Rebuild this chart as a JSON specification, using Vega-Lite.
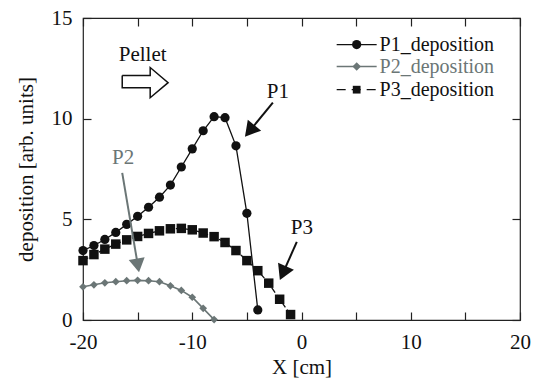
{
  "$schema": "https://vega.github.io/schema/vega-lite/v6.json",
  "width": 437,
  "height": 302,
  "autosize": "none",
  "padding": {"left": 83, "top": 18, "right": 21, "bottom": 58},
  "background": "white",
  "config": {
    "font": "'Liberation Serif', serif",
    "view": {"stroke": "#222222", "strokeWidth": 1.2},
    "text": {"font": "'Liberation Serif', serif"},
    "axis": {
      "domain": false,
      "grid": false,
      "tickColor": "#222222",
      "tickWidth": 1.2,
      "tickSize": -8,
      "labelFlush": false,
      "labelFont": "'Liberation Serif', serif",
      "labelFontSize": 21,
      "labelColor": "#111111",
      "titleFont": "'Liberation Serif', serif",
      "titleFontSize": 21,
      "titleFontWeight": "normal",
      "titleColor": "#111111"
    }
  },
  "datasets": {
    "series": [
      {"s": "P1", "x": -20, "y": 3.45}, {"s": "P1", "x": -19, "y": 3.7}, {"s": "P1", "x": -18, "y": 4.0},
      {"s": "P1", "x": -17, "y": 4.35}, {"s": "P1", "x": -16, "y": 4.75}, {"s": "P1", "x": -15, "y": 5.15},
      {"s": "P1", "x": -14, "y": 5.6}, {"s": "P1", "x": -13, "y": 6.1}, {"s": "P1", "x": -12, "y": 6.7},
      {"s": "P1", "x": -11, "y": 7.6}, {"s": "P1", "x": -10, "y": 8.5}, {"s": "P1", "x": -9, "y": 9.4},
      {"s": "P1", "x": -8, "y": 10.1}, {"s": "P1", "x": -7, "y": 10.05}, {"s": "P1", "x": -6, "y": 8.65},
      {"s": "P1", "x": -5, "y": 5.3}, {"s": "P1", "x": -4, "y": 0.5},
      {"s": "P2", "x": -20, "y": 1.65}, {"s": "P2", "x": -19, "y": 1.75}, {"s": "P2", "x": -18, "y": 1.85},
      {"s": "P2", "x": -17, "y": 1.9}, {"s": "P2", "x": -16, "y": 1.95}, {"s": "P2", "x": -15, "y": 1.97},
      {"s": "P2", "x": -14, "y": 1.95}, {"s": "P2", "x": -13, "y": 1.9}, {"s": "P2", "x": -12, "y": 1.7},
      {"s": "P2", "x": -11, "y": 1.47}, {"s": "P2", "x": -10, "y": 1.13}, {"s": "P2", "x": -9, "y": 0.58},
      {"s": "P2", "x": -8, "y": 0.02},
      {"s": "P3", "x": -20, "y": 2.95}, {"s": "P3", "x": -19, "y": 3.25}, {"s": "P3", "x": -18, "y": 3.52},
      {"s": "P3", "x": -17, "y": 3.77}, {"s": "P3", "x": -16, "y": 3.98}, {"s": "P3", "x": -15, "y": 4.15},
      {"s": "P3", "x": -14, "y": 4.3}, {"s": "P3", "x": -13, "y": 4.43}, {"s": "P3", "x": -12, "y": 4.53},
      {"s": "P3", "x": -11, "y": 4.55}, {"s": "P3", "x": -10, "y": 4.48}, {"s": "P3", "x": -9, "y": 4.32},
      {"s": "P3", "x": -8, "y": 4.14}, {"s": "P3", "x": -7, "y": 3.85}, {"s": "P3", "x": -6, "y": 3.45},
      {"s": "P3", "x": -5, "y": 2.95}, {"s": "P3", "x": -4, "y": 2.45}, {"s": "P3", "x": -3, "y": 1.83},
      {"s": "P3", "x": -2, "y": 1.03}, {"s": "P3", "x": -1, "y": 0.27}
    ],
    "legend": [
      {"s": "P1", "x": 3.22, "x2": 6.88, "xm": 5.05, "xt": 7.15, "y": 13.68, "t": "P1_deposition"},
      {"s": "P2", "x": 3.22, "x2": 6.88, "xm": 5.05, "xt": 7.15, "y": 12.59, "t": "P2_deposition"},
      {"s": "P3", "x": 3.22, "x2": 6.88, "xm": 5.05, "xt": 7.15, "y": 11.44, "t": "P3_deposition"}
    ],
    "blacklabels": [
      {"t": "Pellet", "x": -14.54, "y": 13.18},
      {"t": "P1", "x": -2.16, "y": 11.34},
      {"t": "P3", "x": 0.03, "y": 4.58}
    ],
    "greylabels": [
      {"t": "P2", "x": -16.32, "y": 8.06}
    ],
    "arrows": [
      {"a": "P1", "x": -2.62, "y": 10.8, "x2": -4.74, "y2": 9.39},
      {"a": "P3", "x": -0.43, "y": 3.88, "x2": -1.7, "y2": 2.33},
      {"a": "P2", "x": -16.41, "y": 7.31, "x2": -14.98, "y2": 2.71}
    ],
    "pellet": [
      {"i": 0, "x": -16.41, "y": 12.14}, {"i": 1, "x": -13.85, "y": 12.14},
      {"i": 2, "x": -13.85, "y": 12.54}, {"i": 3, "x": -12.21, "y": 11.79},
      {"i": 4, "x": -13.85, "y": 11.04}, {"i": 5, "x": -13.85, "y": 11.54},
      {"i": 6, "x": -16.41, "y": 11.54}, {"i": 7, "x": -16.41, "y": 12.14}
    ]
  },
  "layer": [
    {
      "data": {"name": "series"},
      "transform": [{"filter": "datum.s === 'P1'"}],
      "mark": {"type": "line", "color": "#111111", "strokeWidth": 1.3},
      "encoding": {
        "x": {"field": "x", "type": "quantitative", "scale": {"domain": [-20, 20], "nice": false},
          "axis": {"orient": "bottom", "values": [-20, -15, -10, -5, 0, 5, 10, 15, 20], "labelExpr": "datum.value % 10 === 0 ? '' + datum.value : ''", "labelPadding": 19, "title": "X [cm]", "titlePadding": 4}},
        "y": {"field": "y", "type": "quantitative", "scale": {"domain": [0, 15], "nice": false},
          "axis": {"orient": "left", "values": [0, 5, 10, 15], "labelPadding": 19, "title": "deposition [arb. units]", "titlePadding": 15}}
      }
    },
    {
      "data": {"name": "series"},
      "transform": [{"filter": "datum.s === 'P2'"}],
      "mark": {"type": "line", "color": "#6b7676", "strokeWidth": 1.6},
      "encoding": {
        "x": {"field": "x", "type": "quantitative", "scale": {"domain": [-20, 20], "nice": false},
          "axis": {"orient": "top", "values": [-20, -15, -10, -5, 0, 5, 10, 15, 20], "labels": false, "title": null}},
        "y": {"field": "y", "type": "quantitative", "scale": {"domain": [0, 15], "nice": false},
          "axis": {"orient": "right", "values": [0, 5, 10, 15], "labels": false, "title": null}}
      }
    },
    {
      "data": {"name": "series"},
      "transform": [{"filter": "datum.s === 'P3'"}],
      "mark": {"type": "line", "color": "#111111", "strokeWidth": 1.3, "strokeDash": [6, 3]},
      "encoding": {
        "x": {"field": "x", "type": "quantitative", "axis": null},
        "y": {"field": "y", "type": "quantitative", "axis": null}
      }
    },
    {
      "data": {"name": "series"},
      "transform": [{"filter": "datum.s === 'P1'"}],
      "mark": {"type": "point", "shape": "circle", "filled": true, "color": "#111111", "size": 85, "opacity": 1},
      "encoding": {
        "x": {"field": "x", "type": "quantitative", "axis": null},
        "y": {"field": "y", "type": "quantitative", "axis": null}
      }
    },
    {
      "data": {"name": "series"},
      "transform": [{"filter": "datum.s === 'P2'"}],
      "mark": {"type": "point", "shape": "diamond", "filled": true, "color": "#6b7676", "size": 60, "opacity": 1},
      "encoding": {
        "x": {"field": "x", "type": "quantitative", "axis": null},
        "y": {"field": "y", "type": "quantitative", "axis": null}
      }
    },
    {
      "data": {"name": "series"},
      "transform": [{"filter": "datum.s === 'P3'"}],
      "mark": {"type": "point", "shape": "square", "filled": true, "color": "#111111", "size": 90, "opacity": 1},
      "encoding": {
        "x": {"field": "x", "type": "quantitative", "axis": null},
        "y": {"field": "y", "type": "quantitative", "axis": null}
      }
    },
    {
      "data": {"name": "legend"},
      "transform": [{"filter": "datum.s !== 'P3'"}],
      "mark": {"type": "rule", "strokeWidth": 1.3},
      "encoding": {
        "x": {"field": "x", "type": "quantitative", "axis": null},
        "x2": {"field": "x2"},
        "y": {"field": "y", "type": "quantitative", "axis": null},
        "color": {"field": "s", "type": "nominal", "scale": {"domain": ["P1", "P2", "P3"], "range": ["#111111", "#6b7676", "#111111"]}, "legend": null}
      }
    },
    {
      "data": {"name": "legend"},
      "transform": [{"filter": "datum.s === 'P3'"}],
      "mark": {"type": "rule", "strokeWidth": 1.3, "color": "#111111", "strokeDash": [9, 6]},
      "encoding": {
        "x": {"field": "x", "type": "quantitative", "axis": null},
        "x2": {"field": "x2"},
        "y": {"field": "y", "type": "quantitative", "axis": null}
      }
    },
    {
      "data": {"name": "legend"},
      "mark": {"type": "point", "filled": true, "opacity": 1},
      "encoding": {
        "x": {"field": "xm", "type": "quantitative", "axis": null},
        "y": {"field": "y", "type": "quantitative", "axis": null},
        "shape": {"field": "s", "type": "nominal", "scale": {"domain": ["P1", "P2", "P3"], "range": ["circle", "diamond", "square"]}, "legend": null},
        "size": {"field": "s", "type": "nominal", "scale": {"domain": ["P1", "P2", "P3"], "range": [85, 60, 90]}, "legend": null},
        "color": {"field": "s", "type": "nominal", "scale": {"domain": ["P1", "P2", "P3"], "range": ["#111111", "#6b7676", "#111111"]}, "legend": null}
      }
    },
    {
      "data": {"name": "legend"},
      "mark": {"type": "text", "align": "left", "baseline": "middle", "fontSize": 20},
      "encoding": {
        "x": {"field": "xt", "type": "quantitative", "axis": null},
        "y": {"field": "y", "type": "quantitative", "axis": null},
        "text": {"field": "t"},
        "color": {"field": "s", "type": "nominal", "scale": {"domain": ["P1", "P2", "P3"], "range": ["#111111", "#6b7676", "#111111"]}, "legend": null}
      }
    },
    {
      "data": {"name": "blacklabels"},
      "mark": {"type": "text", "align": "center", "baseline": "middle", "fontSize": 21, "color": "#111111"},
      "encoding": {
        "x": {"field": "x", "type": "quantitative", "axis": null},
        "y": {"field": "y", "type": "quantitative", "axis": null},
        "text": {"field": "t"}
      }
    },
    {
      "data": {"name": "greylabels"},
      "mark": {"type": "text", "align": "center", "baseline": "middle", "fontSize": 21, "color": "#6b7676"},
      "encoding": {
        "x": {"field": "x", "type": "quantitative", "axis": null},
        "y": {"field": "y", "type": "quantitative", "axis": null},
        "text": {"field": "t"}
      }
    },
    {
      "data": {"name": "arrows"},
      "transform": [{"filter": "datum.a !== 'P2'"}],
      "mark": {"type": "rule", "strokeWidth": 2, "color": "#111111"},
      "encoding": {
        "x": {"field": "x", "type": "quantitative", "axis": null},
        "y": {"field": "y", "type": "quantitative", "axis": null},
        "x2": {"field": "x2"},
        "y2": {"field": "y2"}
      }
    },
    {
      "data": {"name": "arrows"},
      "transform": [{"filter": "datum.a === 'P2'"}],
      "mark": {"type": "rule", "strokeWidth": 2, "color": "#6b7676"},
      "encoding": {
        "x": {"field": "x", "type": "quantitative", "axis": null},
        "y": {"field": "y", "type": "quantitative", "axis": null},
        "x2": {"field": "x2"},
        "y2": {"field": "y2"}
      }
    },
    {
      "data": {"name": "arrows"},
      "transform": [{"filter": "datum.a === 'P1'"}],
      "mark": {"type": "point", "shape": "triangle-up", "filled": true, "opacity": 1, "color": "#111111", "size": 300, "angle": 219.5},
      "encoding": {
        "x": {"field": "x2", "type": "quantitative", "axis": null},
        "y": {"field": "y2", "type": "quantitative", "axis": null}
      }
    },
    {
      "data": {"name": "arrows"},
      "transform": [{"filter": "datum.a === 'P3'"}],
      "mark": {"type": "point", "shape": "triangle-up", "filled": true, "opacity": 1, "color": "#111111", "size": 300, "angle": 204},
      "encoding": {
        "x": {"field": "x2", "type": "quantitative", "axis": null},
        "y": {"field": "y2", "type": "quantitative", "axis": null}
      }
    },
    {
      "data": {"name": "arrows"},
      "transform": [{"filter": "datum.a === 'P2'"}],
      "mark": {"type": "point", "shape": "triangle-up", "filled": true, "opacity": 1, "color": "#6b7676", "size": 260, "angle": 170.4},
      "encoding": {
        "x": {"field": "x2", "type": "quantitative", "axis": null},
        "y": {"field": "y2", "type": "quantitative", "axis": null}
      }
    },
    {
      "data": {"name": "pellet"},
      "mark": {"type": "line", "color": "#111111", "strokeWidth": 1.5, "strokeJoin": "miter"},
      "encoding": {
        "x": {"field": "x", "type": "quantitative", "axis": null},
        "y": {"field": "y", "type": "quantitative", "axis": null},
        "order": {"field": "i", "type": "quantitative"}
      }
    }
  ],
  "resolve": {"axis": {"x": "independent", "y": "independent"}}
}
